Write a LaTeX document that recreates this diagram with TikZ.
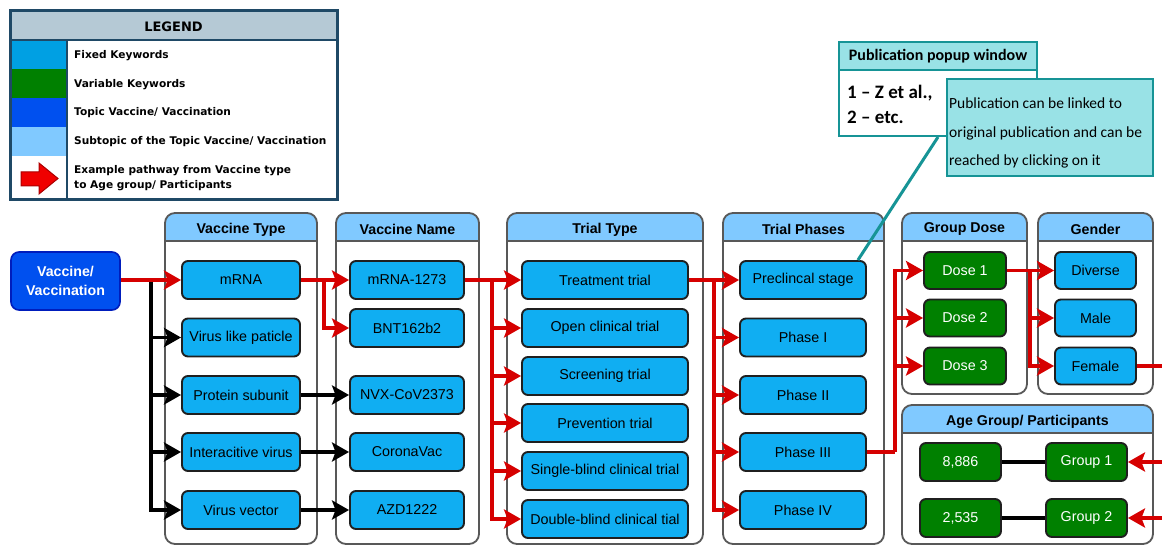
\documentclass[tikz,border=0pt]{standalone}
\usepackage{fontspec}
\setmainfont{Liberation Sans}
\newfontfamily\legendfont{DejaVu Sans}
\newfontfamily\notefont{Carlito}
\usetikzlibrary{arrows.meta,calc}

\definecolor{kwblue}{RGB}{16,174,242}
\definecolor{hdrblue}{RGB}{128,201,255}
\definecolor{vargreen}{RGB}{0,128,0}
\definecolor{topicblue}{RGB}{0,80,239}
\definecolor{topicedge}{RGB}{0,29,188}
\definecolor{flowred}{RGB}{214,0,0}
\definecolor{panelgray}{RGB}{88,88,88}
\definecolor{popteal}{RGB}{22,148,150}
\definecolor{popfill}{RGB}{153,226,230}
\definecolor{lgdhead}{RGB}{181,201,213}
\definecolor{lgdframe}{RGB}{31,73,102}
\definecolor{lgdfixed}{RGB}{0,160,227}
\definecolor{arrowred}{RGB}{240,0,0}
\definecolor{arrowedge}{RGB}{170,0,0}

\tikzset{
  kw/.style={rectangle, rounded corners=6pt, draw=black!88, line width=1.9pt,
    fill=kwblue, minimum height=38pt, inner sep=0pt,
    font=\fontsize{14.3}{16}\selectfont},
  var/.style={kw, fill=vargreen, text=white},
  tipshape/.style={-{Stealth[length=17pt,width=19pt,inset=3.5pt]}},
  flow/.style={draw=flowred, line width=3.4pt, tipshape},
  plainflow/.style={draw=black, line width=3.4pt, tipshape},
  plainlink/.style={draw=black, line width=3.4pt},
  panelline/.style={draw=panelgray, line width=1.8pt},
  paneltitle/.style={font=\bfseries\fontsize{14.2}{16}\selectfont, inner sep=0pt},
  lgdtext/.style={anchor=west, inner sep=0pt, align=left,
    font=\legendfont\bfseries\fontsize{10.6}{15}\selectfont},
  popbox/.style={rectangle, draw=popteal, line width=2pt, inner sep=0pt},
}

% group panel: name, x1, y1, x2, y2, title
\newcommand\grouppanel[6]{%
  \begin{scope}
    \path[clip, rounded corners=10pt] (#2,#3) rectangle (#4,#5);
    \fill[white] (#2,#3) rectangle (#4,#5);
    \fill[hdrblue] (#2,#3) rectangle (#4,#3+28);
  \end{scope}
  \draw[panelline] (#2,#3+28) -- (#4,#3+28);
  \draw[panelline, rounded corners=10pt] (#2,#3) rectangle (#4,#5);
  \node[paneltitle] (#1) at ({(#2+#4)/2},#3+16.5) {#6};
}

\begin{document}
\begin{tikzpicture}[x=1pt,y=-1pt]
\useasboundingbox[fill=white] (0,0) rectangle (1162,545);

% ---------- legend ----------
\fill[lgdhead] (10,11) rectangle (337,40);
\fill[lgdfixed] (10,40) rectangle (67,69);
\fill[vargreen] (10,69) rectangle (67,98);
\fill[topicblue] (10,98) rectangle (67,127);
\fill[hdrblue] (10,127) rectangle (67,156);
\draw[lgdframe, line width=1.6pt] (10,40) -- (337,40);
\draw[lgdframe, line width=1.6pt] (67,40) -- (67,200);
\draw[lgdframe, line width=3pt] (10,11) rectangle (337,200);
\node[font=\legendfont\bfseries\fontsize{13}{15}\selectfont, inner sep=0pt]
  (lgdtitle) at (173.5,27) {LEGEND};
\node[lgdtext] (lgdfix) at (74,56) {Fixed Keywords};
\node[lgdtext] (lgdvar) at (74,85) {Variable Keywords};
\node[lgdtext] (lgdtop) at (74,113) {Topic Vaccine/ Vaccination};
\node[lgdtext] (lgdsub) at (74,142) {Subtopic of the Topic Vaccine/ Vaccination};
\node[lgdtext] (lgdpath) at (74,178.5) {Example pathway from Vaccine type\\to Age group/ Participants};
\filldraw[fill=arrowred, draw=arrowedge, line width=1pt, line join=miter]
  (21,172) -- (39,172) -- (39,163) -- (58,178.5) -- (39,194) -- (39,186) -- (21,186) -- cycle;

% ---------- group panels ----------
\grouppanel{ptype}{165}{213}{317}{544}{Vaccine Type}
\grouppanel{pname}{336}{213}{479}{544}{Vaccine Name}
\grouppanel{ptrial}{507}{213}{703}{544}{Trial Type}
\grouppanel{pphase}{723}{213}{884}{544}{Trial Phases}
\grouppanel{pdose}{902}{213}{1027}{394}{Group Dose}
\grouppanel{pgender}{1038}{213}{1153}{394}{Gender}
\grouppanel{page}{902}{405}{1153}{544}{Age Group/ Participants}

% ---------- topic ----------
\node[rectangle, rounded corners=8pt, draw=topicedge, line width=1.6pt, fill=topicblue,
  minimum width=109pt, minimum height=58pt, inner sep=0pt, text=white, align=center,
  font=\bfseries\fontsize{14.2}{19.5}\selectfont] (vac) at (65.5,281) {Vaccine/\\Vaccination};

% ---------- vaccine type ----------
\node[kw, minimum width=118pt] (t1) at (241,280) {mRNA};
\node[kw, minimum width=118pt] (t2) at (241,337.5) {Virus like paticle};
\node[kw, minimum width=118pt] (t3) at (241,395) {Protein subunit};
\node[kw, minimum width=118pt] (t4) at (241,452) {Interacitive virus};
\node[kw, minimum width=118pt] (t5) at (241,510) {Virus vector};

% ---------- vaccine name ----------
\node[kw, minimum width=114pt] (n1) at (407,280) {mRNA-1273};
\node[kw, minimum width=114pt] (n2) at (407,328) {BNT162b2};
\node[kw, minimum width=114pt] (n3) at (407,395) {NVX-CoV2373};
\node[kw, minimum width=114pt] (n4) at (407,452) {CoronaVac};
\node[kw, minimum width=114pt] (n5) at (407,510) {AZD1222};

% ---------- trial type ----------
\node[kw, minimum width=166pt] (r1) at (605,280) {Treatment trial};
\node[kw, minimum width=166pt] (r2) at (605,328) {Open clinical trial};
\node[kw, minimum width=166pt] (r3) at (605,376) {Screening trial};
\node[kw, minimum width=166pt] (r4) at (605,423) {Prevention trial};
\node[kw, minimum width=166pt] (r5) at (605,471) {Single-blind clinical trial};
\node[kw, minimum width=166pt] (r6) at (605,519) {Double-blind clinical tial};

% ---------- trial phases ----------
\node[kw, minimum width=126pt] (p1) at (803,280) {Preclincal stage};
\node[kw, minimum width=126pt] (p2) at (803,337.5) {Phase I};
\node[kw, minimum width=126pt] (p3) at (803,395) {Phase II};
\node[kw, minimum width=126pt] (p4) at (803,452) {Phase III};
\node[kw, minimum width=126pt] (p5) at (803,510) {Phase IV};

% ---------- group dose ----------
\node[var, minimum width=82pt, minimum height=37pt] (d1) at (965,270.5) {Dose 1};
\node[var, minimum width=82pt, minimum height=37pt] (d2) at (965,318) {Dose 2};
\node[var, minimum width=82pt, minimum height=37pt] (d3) at (965,366) {Dose 3};

% ---------- gender ----------
\node[kw, minimum width=81pt, minimum height=37pt] (g1) at (1095.5,270.5) {Diverse};
\node[kw, minimum width=81pt, minimum height=37pt] (g2) at (1095.5,318) {Male};
\node[kw, minimum width=81pt, minimum height=37pt] (g3) at (1095.5,366) {Female};

% ---------- age group / participants ----------
\node[var, minimum width=81pt] (a1) at (960.5,462) {8,886};
\node[var, minimum width=81pt] (a2) at (1086.5,462) {Group 1};
\node[var, minimum width=81pt] (b1) at (960.5,518) {2,535};
\node[var, minimum width=81pt] (b2) at (1086.5,518) {Group 2};

% ---------- branch points ----------
\coordinate (j0) at (151,280);
\coordinate (j1) at (324,280);
\coordinate (j2) at (492,280);
\coordinate (j3) at (714,280);
\coordinate (j4) at (895,452);
\coordinate (j5) at (1030,270.5);
\coordinate (outF) at (1162,366);
\coordinate (inG1) at (1162,462);
\coordinate (inG2) at (1162,518);

% ---------- black connectors ----------
\draw[plainflow] (j0) |- (t2.west);
\draw[plainflow] (j0) |- (t3.west);
\draw[plainflow] (j0) |- (t4.west);
\draw[plainflow] (j0) |- (t5.west);
\draw[plainflow] (t3.east) -- (n3.west);
\draw[plainflow] (t4.east) -- (n4.west);
\draw[plainflow] (t5.east) -- (n5.west);
\draw[plainlink] (a1.east) -- (a2.west);
\draw[plainlink] (b1.east) -- (b2.west);

% ---------- red pathway ----------
\draw[flow] (vac.east|-t1.west) -- (t1.west);
\draw[flow] (t1.east) -- (n1.west);
\draw[flow] (j1) |- (n2.west);
\draw[flow] (n1.east) -- (r1.west);
\draw[flow] (j2) |- (r2.west);
\draw[flow] (j2) |- (r3.west);
\draw[flow] (j2) |- (r4.west);
\draw[flow] (j2) |- (r5.west);
\draw[flow] (j2) |- (r6.west);
\draw[flow] (r1.east) -- (p1.west);
\draw[flow] (j3) |- (p2.west);
\draw[flow] (j3) |- (p3.west);
\draw[flow] (j3) |- (p4.west);
\draw[flow] (j3) |- (p5.west);
\draw[flow, -] (p4.east) -- (j4);
\draw[flow] (j4) |- (d1.west);
\draw[flow] (j4) |- (d2.west);
\draw[flow] (j4) |- (d3.west);
\draw[flow] (d1.east) -- (g1.west);
\draw[flow] (j5) |- (g2.west);
\draw[flow] (j5) |- (g3.west);
\draw[flow, -] (g3.east) -- (outF);
\draw[flow] (inG1) -- (a2.east);
\draw[flow] (inG2) -- (b2.east);

% ---------- publication popup ----------
\node[popbox, fill=popfill, minimum width=198pt, minimum height=28pt,
  font=\notefont\bfseries\fontsize{16}{18}\selectfont] (pophead) at (938,56) {Publication popup window};
\node[popbox, fill=white, minimum width=198pt, minimum height=66pt] (popbody) at (938,103) {};
\node[anchor=west, inner sep=0pt, align=left,
  font=\notefont\bfseries\fontsize{19}{25}\selectfont] (poprefs) at (847,104.5) {1 – Z et al.,\\2 – etc.};
\draw[popteal, line width=3pt] (popbody.south) -- ($(p1.north east)+(-9,0)$);
\node[popbox, fill=popfill, minimum width=206pt, minimum height=97pt] (popnote) at (1050,127.5) {};
\node[anchor=west, inner sep=0pt, align=left,
  font=\notefont\fontsize{15.5}{28.5}\selectfont] (popnotetext) at (949,133)
  {Publication can be linked to\\original publication and can be\\reached by clicking on it};
\end{tikzpicture}
\end{document}
